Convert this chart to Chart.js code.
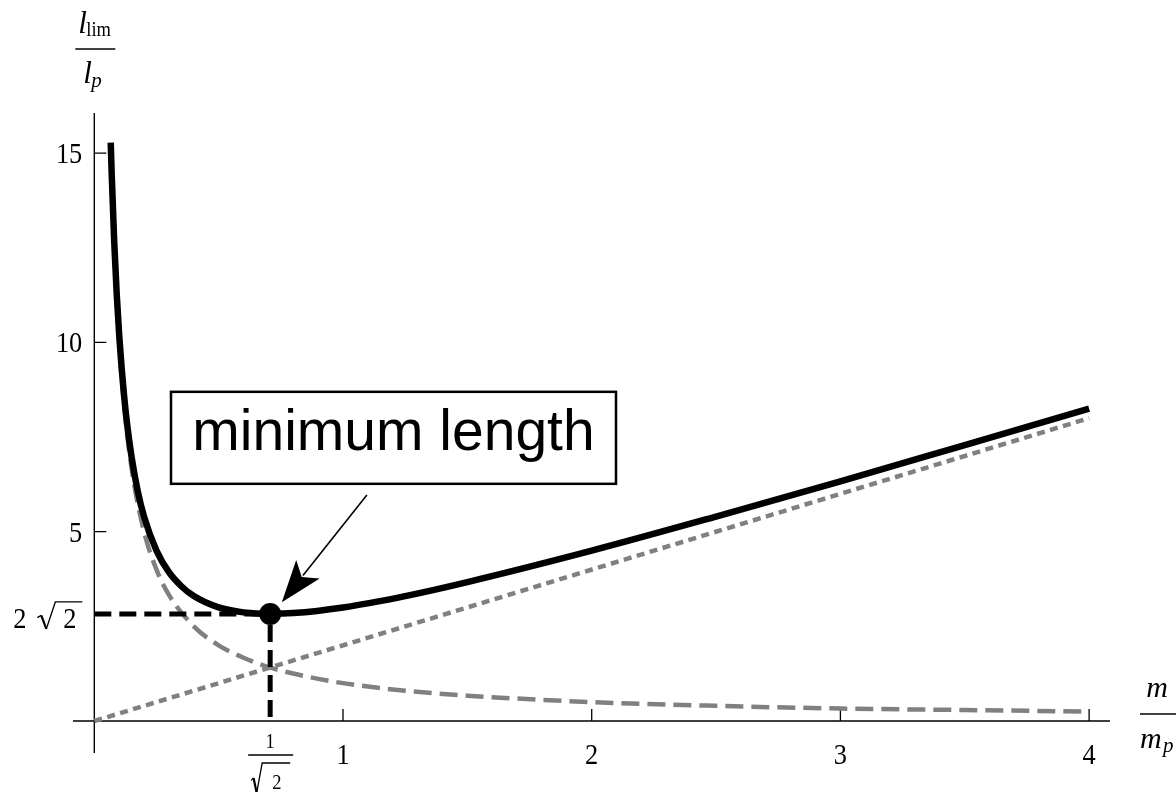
<!DOCTYPE html>
<html><head><meta charset="utf-8">
<script src="https://cdn.jsdelivr.net/npm/chart.js@4/dist/chart.umd.min.js"></script>
<style>html,body{margin:0;padding:0;background:#fff}canvas{display:block}</style>
</head><body>
<canvas id="c" width="1176" height="792"></canvas>
<script>
// ---- data ----
const curveX = [0.066,0.07,0.08,0.09,0.10,0.11,0.12,0.13,0.15,0.175,0.20,0.25,0.30,0.35,0.40,0.50,0.60,0.7071,0.80,1.00,1.25,1.50,2.00,2.50,3.00,3.50,4.00];
const curveY = [15.28,14.43,12.66,11.29,10.20,9.31,8.57,7.95,6.97,6.06,5.40,4.50,3.93,3.56,3.30,3.00,2.87,2.83,2.85,3.00,3.30,3.67,4.50,5.40,6.33,7.29,8.25];
const invX = [0.066,0.08,0.10,0.12,0.15,0.20,0.25,0.30,0.40,0.50,0.60,0.7071,0.85,1.00,1.25,1.50,2.00,2.50,3.00,3.50,4.00];
const invY = [15.15,12.50,10.00,8.33,6.67,5.00,4.00,3.33,2.50,2.00,1.67,1.41,1.18,1.00,0.80,0.67,0.50,0.40,0.33,0.29,0.25];
const linX = [0, 4];
const linY = [0, 8];
const minX = 0.7071, minY = 2.8284;
const xTicks = [1, 2, 3, 4];
const xTickLabels = ['1', '2', '3', '4'];
const yTicks = [5, 10, 15];
const yTickLabels = ['5', '10', '15'];
const annText = 'minimum length';
const annCenter = {x: 1.203, y: 7.48};
const arrowFrom = {x: 1.096, y: 5.97};
const arrowTo = {x: 0.754, y: 3.14};

const pts = (xs, ys) => xs.map((x, i) => ({x, y: ys[i]}));
const SERIF = '"Liberation Serif", "DejaVu Serif", serif';
const SANS = '"Liberation Sans", Arial, sans-serif';

function serifText(ctx, txt, x, y, size, align, italic, sx) {
  ctx.save();
  ctx.font = (italic ? 'italic ' : '') + size + 'px ' + SERIF;
  ctx.textBaseline = 'alphabetic';
  ctx.translate(x, y);
  ctx.scale(sx || 0.88, 1);
  ctx.textAlign = align || 'left';
  ctx.fillStyle = '#000';
  ctx.fillText(txt, 0, 0);
  ctx.restore();
}

function radical(ctx, xl, yb, yt, w, xend) {
  ctx.save();
  ctx.strokeStyle = '#000';
  ctx.lineJoin = 'miter';
  ctx.lineWidth = 1.3;
  ctx.beginPath();
  const h = yb - yt;
  ctx.moveTo(xl, yb - h * 0.42);
  ctx.lineTo(xl + w * 0.22, yb - h * 0.5);
  ctx.stroke();
  ctx.lineWidth = 2.2;
  ctx.beginPath();
  ctx.moveTo(xl + w * 0.22, yb - h * 0.5);
  ctx.lineTo(xl + w * 0.5, yb);
  ctx.stroke();
  ctx.lineWidth = 1.3;
  ctx.beginPath();
  ctx.moveTo(xl + w * 0.5, yb);
  ctx.lineTo(xl + w, yt);
  ctx.lineTo(xend, yt);
  ctx.stroke();
  ctx.restore();
}

const axesPlugin = {
  id: 'axesPlugin',
  beforeDatasetsDraw(chart) {
    const {ctx, chartArea: a, scales: {x, y}} = chart;
    const x0 = x.getPixelForValue(0), y0 = y.getPixelForValue(0);
    ctx.save();
    ctx.strokeStyle = '#000';
    ctx.lineWidth = 1.4;
    ctx.beginPath();
    ctx.moveTo(a.left, y0); ctx.lineTo(a.right, y0);
    ctx.moveTo(x0, a.top); ctx.lineTo(x0, a.bottom);
    ctx.stroke();
    ctx.lineWidth = 1.3;
    ctx.beginPath();
    xTicks.forEach(v => { const px = x.getPixelForValue(v); ctx.moveTo(px, y0); ctx.lineTo(px, y0 - 12); });
    yTicks.forEach(v => { const py = y.getPixelForValue(v); ctx.moveTo(x0, py); ctx.lineTo(x0 + 12, py); });
    ctx.stroke();
    // tick labels
    xTicks.forEach((v, i) => serifText(ctx, xTickLabels[i], x.getPixelForValue(v), y0 + 43, 30, 'center'));
    yTicks.forEach((v, i) => serifText(ctx, yTickLabels[i], x0 - 12, y.getPixelForValue(v) + 10, 30, 'right'));
    // 2 sqrt2 label on y
    const py = y.getPixelForValue(minY);
    serifText(ctx, '2', x0 - 81, py + 14, 30, 'left');
    radical(ctx, x0 - 57, py + 15, py - 12, 18, x0 - 12);
    serifText(ctx, '2', x0 - 31, py + 14, 30, 'left');
    // 1/sqrt2 label on x
    const px = x.getPixelForValue(minX);
    serifText(ctx, '1', px, y0 + 27, 21, 'center');
    ctx.beginPath(); ctx.moveTo(px - 22, y0 + 34); ctx.lineTo(px + 23, y0 + 34); ctx.stroke();
    radical(ctx, px - 19, y0 + 72, y0 + 42, 11, px + 20);
    serifText(ctx, '2', px + 2, y0 + 68, 21, 'left');
    // y axis title l_lim / l_p
    serifText(ctx, 'l', x0 - 16, 33, 31, 'left', true, 1);
    serifText(ctx, 'lim', x0 - 8, 36, 21, 'left');
    ctx.beginPath(); ctx.moveTo(x0 - 19, 49); ctx.lineTo(x0 + 21, 49); ctx.stroke();
    serifText(ctx, 'l', x0 - 11, 83, 31, 'left', true, 1);
    serifText(ctx, 'p', x0 - 3, 87, 21, 'left', true, 1);
    // x axis title m / m_p
    serifText(ctx, 'm', a.right + 47, 697, 30, 'center', true, 1);
    ctx.beginPath(); ctx.moveTo(a.right + 30, 714); ctx.lineTo(a.right + 66, 714); ctx.stroke();
    serifText(ctx, 'm', a.right + 30, 748, 30, 'left', true, 1);
    serifText(ctx, 'p', a.right + 53, 752, 21, 'left', true, 1);
    ctx.restore();
  },
  afterDatasetsDraw(chart) {
    const {ctx, scales: {x, y}} = chart;
    ctx.save();
    // annotation box
    const cx = x.getPixelForValue(annCenter.x), cy = y.getPixelForValue(annCenter.y);
    const w = 445, h = 92;
    ctx.fillStyle = '#fff';
    ctx.fillRect(cx - w / 2, cy - h / 2, w, h);
    ctx.strokeStyle = '#000';
    ctx.lineWidth = 2.5;
    ctx.strokeRect(cx - w / 2, cy - h / 2, w, h);
    ctx.fillStyle = '#000';
    ctx.font = '57px ' + SANS;
    ctx.textAlign = 'center';
    ctx.textBaseline = 'alphabetic';
    ctx.fillText(annText, cx, cy + 12);
    // arrow
    const ax = x.getPixelForValue(arrowFrom.x), ay = y.getPixelForValue(arrowFrom.y);
    const bx = x.getPixelForValue(arrowTo.x), by = y.getPixelForValue(arrowTo.y);
    const ang = Math.atan2(by - ay, bx - ax);
    const L = 42, W = 15;
    const hx = bx - L * Math.cos(ang), hy = by - L * Math.sin(ang);
    ctx.lineWidth = 1.6;
    ctx.beginPath(); ctx.moveTo(ax, ay); ctx.lineTo(hx + 8 * Math.cos(ang), hy + 8 * Math.sin(ang)); ctx.stroke();
    ctx.beginPath();
    ctx.moveTo(bx, by);
    ctx.lineTo(hx - W * Math.sin(ang), hy + W * Math.cos(ang));
    ctx.lineTo(hx + 10 * Math.cos(ang), hy + 10 * Math.sin(ang));
    ctx.lineTo(hx + W * Math.sin(ang), hy - W * Math.cos(ang));
    ctx.closePath();
    ctx.fill();
    ctx.restore();
  }
};

new Chart(document.getElementById('c'), {
  type: 'scatter',
  data: {
    datasets: [
      {data: [{x: minX, y: minY}], pointRadius: 11, pointBackgroundColor: '#000', pointBorderWidth: 0, showLine: false, order: 0},
      {data: pts(curveX, curveY), showLine: true, borderColor: '#000', borderWidth: 6.5, pointRadius: 0, cubicInterpolationMode: 'monotone', order: 1},
      {data: [{x: 0, y: minY}, {x: minX, y: minY}], showLine: true, borderColor: '#000', borderWidth: 5, borderDash: [17, 8], pointRadius: 0, order: 2},
      {data: [{x: minX, y: minY}, {x: minX, y: 0}], showLine: true, borderColor: '#000', borderWidth: 5, borderDash: [17, 8], borderDashOffset: 14, pointRadius: 0, order: 2},
      {data: pts(invX, invY), showLine: true, borderColor: '#808080', borderWidth: 4.5, borderDash: [18, 8], pointRadius: 0, cubicInterpolationMode: 'monotone', order: 3},
      {data: pts(linX, linY), showLine: true, borderColor: '#808080', borderWidth: 4.5, borderDash: [8, 5.5], pointRadius: 0, order: 3}
    ]
  },
  options: {
    responsive: false,
    devicePixelRatio: 1,
    animation: false,
    layout: {padding: {left: 73, right: 66, top: 113, bottom: 39}},
    plugins: {legend: {display: false}, tooltip: {enabled: false}},
    scales: {
      x: {type: 'linear', min: -0.0857, max: 4.084, display: false},
      y: {type: 'linear', min: -0.845, max: 16.06, display: false}
    }
  },
  plugins: [axesPlugin]
});
</script>
</body></html>
